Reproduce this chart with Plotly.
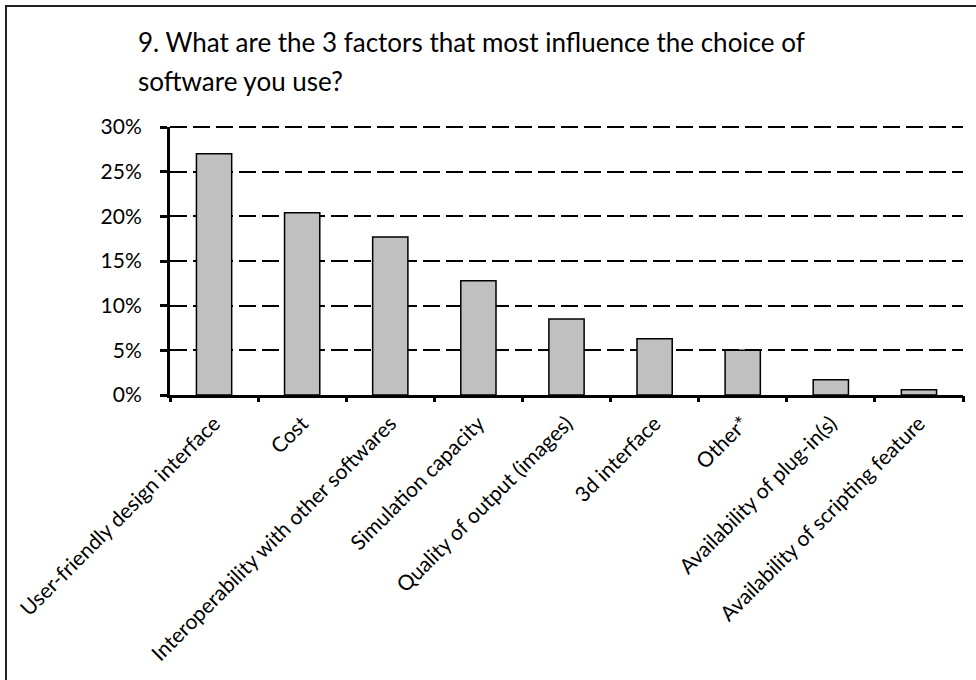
import plotly.graph_objects as go

categories = [
    "User-friendly design interface",
    "Cost",
    "Interoperability with other softwares",
    "Simulation capacity",
    "Quality of output (images)",
    "3d interface",
    "Other*",
    "Availability of plug-in(s)",
    "Availability of scripting feature",
]
values = [27.0, 20.4, 17.7, 12.8, 8.5, 6.3, 5.0, 1.7, 0.6]
ytick_vals = [0, 5, 10, 15, 20, 25, 30]
ytick_text = ["0%", "5%", "10%", "15%", "20%", "25%", "30%"]
title_lines = [
    "9. What are the 3 factors that most influence the choice of",
    "software you use?",
]

FONT = "Lato"
L, R, T, B = 170, 13, 127, 285
W, H = 976, 680
plot_h = H - T - B
plot_w = W - L - R
n = len(categories)


def py(px):
    return (H - B - px) / plot_h


def pxx(px):
    return (px - L) / plot_w


fig = go.Figure(
    go.Bar(
        x=categories,
        y=values,
        width=0.4,
        marker=dict(color="#C0C0C0", line=dict(color="black", width=1.5)),
        hoverinfo="x+y",
    )
)

fig.update_layout(
    template="none",
    width=W,
    height=H,
    margin=dict(l=L, r=R, t=T, b=B),
    paper_bgcolor="white",
    plot_bgcolor="white",
    showlegend=False,
    font=dict(family=FONT, color="black"),
    bargap=0.6,
    xaxis=dict(
        type="category",
        range=[-0.5, n - 0.5],
        tickangle=-45,
        tickfont=dict(size=21, family=FONT, color="black"),
        showline=True,
        linecolor="black",
        linewidth=3,
        ticks="",
        showgrid=False,
        zeroline=False,
        ticklabelstandoff=5,
    ),
    # overlay axis only used to draw tick marks at category boundaries
    xaxis2=dict(
        overlaying="x",
        anchor="y",
        side="bottom",
        range=[-0.5, n - 0.5],
        tickmode="array",
        tickvals=[i - 0.5 for i in range(n + 1)],
        showticklabels=False,
        ticks="outside",
        ticklen=6,
        tickwidth=3,
        tickcolor="black",
        showgrid=False,
        zeroline=False,
        showline=False,
    ),
    yaxis=dict(
        range=[0, 30],
        tickmode="array",
        tickvals=ytick_vals,
        ticktext=ytick_text,
        tickfont=dict(size=21, family=FONT, color="black"),
        showgrid=True,
        gridcolor="black",
        gridwidth=2,
        griddash="17px,6px",
        showline=True,
        linecolor="black",
        linewidth=3,
        ticks="outside",
        ticklen=7,
        tickwidth=3,
        tickcolor="black",
        ticklabelstandoff=14,
        zeroline=False,
    ),
)

fig.add_trace(
    go.Scatter(x=[None], y=[None], xaxis="x2", yaxis="y", showlegend=False, hoverinfo="skip")
)

# top (30%) dashed gridline at the upper edge of the plot area
fig.add_shape(
    type="line",
    xref="paper",
    yref="paper",
    x0=0,
    x1=1,
    y0=1,
    y1=1,
    line=dict(color="black", width=2, dash="17px,6px"),
    layer="below",
)

# chart frame
fig.add_shape(
    type="rect",
    xref="paper",
    yref="paper",
    x0=pxx(6),
    x1=pxx(1000),
    y0=py(720),
    y1=py(6),
    line=dict(color="#222222", width=2),
    fillcolor="rgba(0,0,0,0)",
    layer="below",
)

for line, ypx in zip(title_lines, [42, 81]):
    fig.add_annotation(
        text=line,
        xref="paper",
        yref="paper",
        x=pxx(136),
        y=py(ypx),
        xanchor="left",
        yanchor="middle",
        showarrow=False,
        font=dict(size=26, family=FONT, color="black"),
    )

fig.write_html("out.html")
